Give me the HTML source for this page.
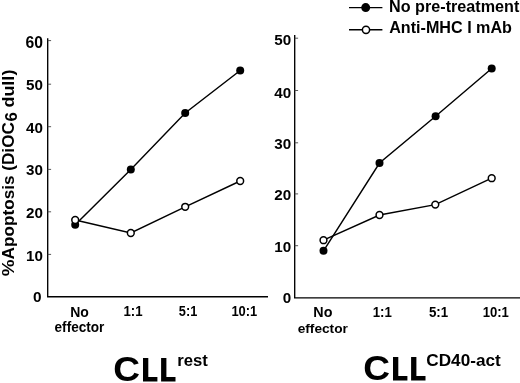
<!DOCTYPE html>
<html><head><meta charset="utf-8">
<style>
html,body{margin:0;padding:0;background:#fff;}
body{width:520px;height:383px;overflow:hidden;}
svg{display:block;filter:grayscale(1);}
text{font-family:"Liberation Sans",sans-serif;font-weight:bold;fill:#000;}
</style></head><body>
<svg width="520" height="383" viewBox="0 0 520 383">
<rect width="520" height="383" fill="#fff"/>
<!-- left axes -->
<g stroke="#000" stroke-width="1.35" fill="none">
<path d="M47.7 38.3 V296.75 H268"/>
<path d="M47.7 40.6h3.4M47.7 84.2h3.4M47.7 126.7h3.4M47.7 169.4h3.4M47.7 211.8h3.4M47.7 254.4h3.4" stroke-width="0.9" stroke="#444"/>
<!-- right axes -->
<path d="M294.7 35 V297.8 H520"/>
<path d="M294.7 38.2h3.4M294.7 90.5h3.4M294.7 142.8h3.4M294.7 193.9h3.4M294.7 245.7h3.4" stroke-width="0.9" stroke="#444"/>
</g>
<!-- left data -->
<g stroke="#000" stroke-width="1.45" fill="none">
<polyline points="75.2,224.8 130.8,169.4 185.2,113 240.2,70.5"/>
<polyline points="75.2,220 130.8,233 185.2,206.8 240.2,181"/>
<polyline points="323.5,250.8 379.5,163 435.6,116.2 491.7,68.5"/>
<polyline points="323.5,240.2 379.5,215 435.3,204.6 491.7,178.2"/>
<path d="M349 7.6H382.4M349 29.8H382.4"/>
</g>
<g fill="#000">
<circle cx="75.2" cy="224.8" r="4"/><circle cx="130.8" cy="169.4" r="4"/><circle cx="185.2" cy="113" r="4"/><circle cx="240.2" cy="70.5" r="4"/>
<circle cx="323.5" cy="250.8" r="4"/><circle cx="379.5" cy="163" r="4"/><circle cx="435.6" cy="116.2" r="4"/><circle cx="491.7" cy="68.5" r="4"/>
<circle cx="365.7" cy="7.6" r="4.5"/>
</g>
<g fill="#fff" stroke="#000" stroke-width="1.5">
<circle cx="75.2" cy="220" r="3.4"/><circle cx="130.8" cy="233" r="3.4"/><circle cx="185.2" cy="206.8" r="3.4"/><circle cx="240.2" cy="181" r="3.4"/>
<circle cx="323.5" cy="240.2" r="3.4"/><circle cx="379.5" cy="215" r="3.4"/><circle cx="435.3" cy="204.6" r="3.4"/><circle cx="491.7" cy="178.2" r="3.4"/>
<circle cx="366" cy="29.8" r="3.6"/>
</g>
<!-- L glyphs -->
<g fill="#000">
<path d="M143 357.9h5.3v19.1h9.1v4.4H143z"/>
<path d="M161.1 357.9h5.3v19.1h9.1v4.4h-14.4z"/>
<path d="M393 356.9h5.3v19.1h9.1v4.4H393z"/>
<path d="M411.1 356.9h5.3v19.1h9.1v4.4h-14.4z"/>
</g>
<!-- texts -->
<text transform="translate(389.07,11.60) scale(1.0045,1)" font-size="16.1">No pre-treatment</text>
<text transform="translate(389.22,33.05) scale(1.0017,1)" font-size="16.1">Anti-MHC I mAb</text>
<text transform="translate(25.50,47.60) scale(1.0000,1)" font-size="15.7">60</text>
<text transform="translate(26.04,90.10) scale(1.0000,1)" font-size="15.2">50</text>
<text transform="translate(26.04,133.10) scale(1.0000,1)" font-size="15.2">40</text>
<text transform="translate(26.04,175.20) scale(1.0000,1)" font-size="15.2">30</text>
<text transform="translate(26.04,218.00) scale(1.0000,1)" font-size="15.2">20</text>
<text transform="translate(26.04,261.40) scale(1.0000,1)" font-size="15.2">10</text>
<text transform="translate(33.05,302.20) scale(1.0000,1)" font-size="15.4">0</text>
<text transform="translate(274.24,44.70) scale(1.0000,1)" font-size="15.2">50</text>
<text transform="translate(274.24,98.10) scale(1.0000,1)" font-size="15.2">40</text>
<text transform="translate(274.24,149.40) scale(1.0000,1)" font-size="15.2">30</text>
<text transform="translate(274.24,200.20) scale(1.0000,1)" font-size="15.2">20</text>
<text transform="translate(274.24,251.60) scale(1.0000,1)" font-size="15.2">10</text>
<text transform="translate(282.75,303.10) scale(1.0000,1)" font-size="15.2">0</text>
<text transform="translate(70.22,316.60) scale(0.9802,1)" font-size="14.3">No</text>
<text transform="translate(54.56,332.20) scale(0.9928,1)" font-size="13.7">effector</text>
<text transform="translate(123.41,316.30) scale(0.9321,1)" font-size="14.2">1:1</text>
<text transform="translate(178.82,316.30) scale(0.8967,1)" font-size="14.2">5:1</text>
<text transform="translate(231.42,316.30) scale(0.9107,1)" font-size="14.2">10:1</text>
<text transform="translate(313.30,317.40) scale(1.0031,1)" font-size="14.3">No</text>
<text transform="translate(297.65,333.20) scale(1.0009,1)" font-size="13.7">effector</text>
<text transform="translate(372.71,317.10) scale(0.9321,1)" font-size="14.2">1:1</text>
<text transform="translate(428.90,317.10) scale(0.9373,1)" font-size="14.2">5:1</text>
<text transform="translate(482.71,317.10) scale(0.9218,1)" font-size="14.2">10:1</text>
<text transform="translate(113.32,381.30) scale(1.0533,1)" font-size="35.2">C</text>
<text transform="translate(177.23,366.10) scale(1.0429,1)" font-size="16.0">rest</text>
<text transform="translate(363.32,380.30) scale(1.0533,1)" font-size="35.2">C</text>
<text transform="translate(426.31,365.70) scale(1.0748,1)" font-size="16.0">CD40-act</text>
<text transform="translate(14.0,259.41) rotate(-90) scale(1.0098,1)" font-size="17.0">Apoptosis (DiOC</text>
<text transform="translate(14.0,276.17) rotate(-90) scale(1.1127,1)" font-size="17.0">%</text>
<text transform="translate(17.1,121.38) rotate(-90) scale(0.9926,1)" font-size="17.0">6</text>
<text transform="translate(14.0,107.62) rotate(-90) scale(1.0600,1)" font-size="17.0">dull)</text>
</svg>
</body></html>
